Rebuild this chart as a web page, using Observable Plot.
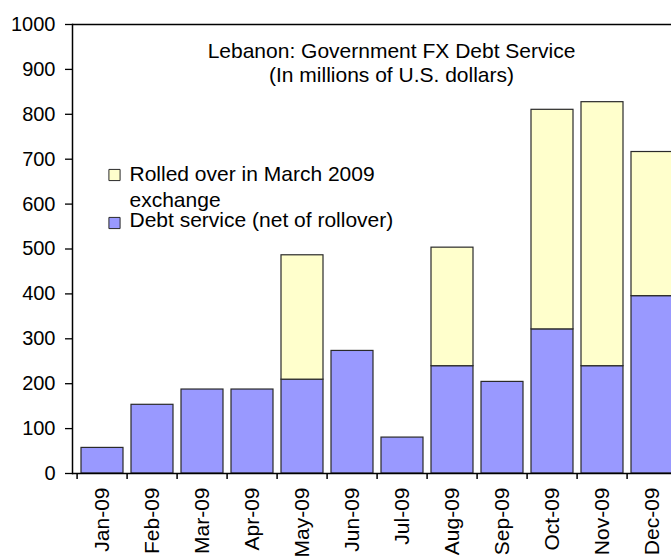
<!DOCTYPE html>
<html>
<head>
<meta charset="utf-8">
<script src="https://cdn.jsdelivr.net/npm/d3@7"></script>
<script src="https://cdn.jsdelivr.net/npm/@observablehq/plot@0.6"></script>
<style>
  html, body { margin: 0; padding: 0; background: #fff; overflow: hidden; }
  #chart svg { overflow: hidden; display: block; }
</style>
</head>
<body>
<div id="chart"></div>
<script>
// Data (millions of U.S. dollars)
const months = ["Jan-09", "Feb-09", "Mar-09", "Apr-09", "May-09", "Jun-09",
                "Jul-09", "Aug-09", "Sep-09", "Oct-09", "Nov-09", "Dec-09"];
const debtService = [57, 153, 187, 187, 209, 273, 80, 239, 204, 321, 239, 395];
const rolledOver  = [0, 0, 0, 0, 277, 0, 0, 264, 0, 489, 588, 321];
const yTicks = [0, 100, 200, 300, 400, 500, 600, 700, 800, 900, 1000];

const titleText = "Lebanon: Government FX Debt Service";
const subtitleText = "(In millions of U.S. dollars)";
const seriesNames = ["Rolled over in March 2009", "exchange", "Debt service (net of rollover)"];

const blue = "#9999ff";
const yellow = "#ffffcc";
const edge = "#2a2a2a";

const W = 671, H = 556;
const mLeft = 72, mTop = 24, mBottom = 83;
const xRange = [72, 681.6];
const halfStep = (xRange[1] - xRange[0]) / months.length / 2;

const rows = months.map((m, i) => ({month: m, debt: debtService[i], rolled: rolledOver[i], total: debtService[i] + rolledOver[i]}));

const font = "'Liberation Sans', Arial, sans-serif";
const textSize = 21;

const chart = Plot.plot({
  width: W,
  height: H,
  marginLeft: mLeft,
  marginTop: mTop,
  marginBottom: mBottom,
  marginRight: 0,
  style: {fontFamily: font, fontSize: "20px", color: "#000", background: "#fff"},
  x: {domain: months, range: xRange, paddingInner: 0.16, paddingOuter: 0.08},
  y: {domain: [0, 1000]},
  marks: [
    // bars
    Plot.barY(rows, {x: "month", y1: 0, y2: "debt", fill: blue, stroke: edge, strokeWidth: 1.2}),
    Plot.barY(rows.filter(d => d.rolled > 0), {x: "month", y1: "debt", y2: "total", fill: yellow, stroke: edge, strokeWidth: 1.2}),
    // axis lines
    Plot.ruleY([0], {stroke: "#000", strokeWidth: 1.5}),
    Plot.ruleY([1000], {stroke: "#000", strokeWidth: 1.5}),
    Plot.frame({anchor: "left", stroke: "#000", strokeWidth: 1.5}),
    // y axis
    Plot.axisY({ticks: yTicks, tickSize: 7, tickPadding: 10, tickFormat: d => String(d), label: null, stroke: "#000", fill: "#000", fontSize: 20, strokeWidth: 1.3}),
    // x axis boundary ticks
    Plot.axisX({tickSize: 6, dx: -halfStep, fill: "none", label: null, stroke: "#000", strokeWidth: 1.5}),
    // x axis labels
    Plot.axisX({tickSize: 0, tickPadding: 14, tickRotate: -90, label: null, fill: "#000", fontSize: 21}),
    // title
    Plot.text([titleText], {frameAnchor: "top-left", dx: 319, dy: 33, text: d => d, textAnchor: "middle", lineAnchor: "bottom", fontSize: textSize, fill: "#000"}),
    Plot.text([subtitleText], {frameAnchor: "top-left", dx: 319, dy: 57, text: d => d, textAnchor: "middle", lineAnchor: "bottom", fontSize: textSize, fill: "#000"}),
    // legend
    Plot.dot([0], {frameAnchor: "top-left", dx: 42, dy: 150.5, symbol: "square", r: 6.3, fill: yellow, stroke: edge, strokeWidth: 1}),
    Plot.dot([0], {frameAnchor: "top-left", dx: 42, dy: 198.5, symbol: "square", r: 6.3, fill: blue, stroke: edge, strokeWidth: 1}),
    Plot.text([seriesNames[0]], {frameAnchor: "top-left", dx: 57, dy: 156, text: d => d, textAnchor: "start", lineAnchor: "bottom", fontSize: textSize, fill: "#000"}),
    Plot.text([seriesNames[1]], {frameAnchor: "top-left", dx: 57, dy: 182, text: d => d, textAnchor: "start", lineAnchor: "bottom", fontSize: textSize, fill: "#000"}),
    Plot.text([seriesNames[2]], {frameAnchor: "top-left", dx: 57, dy: 202, text: d => d, textAnchor: "start", lineAnchor: "bottom", fontSize: textSize, fill: "#000"})
  ]
});
document.getElementById("chart").appendChild(chart);
</script>
</body>
</html>
